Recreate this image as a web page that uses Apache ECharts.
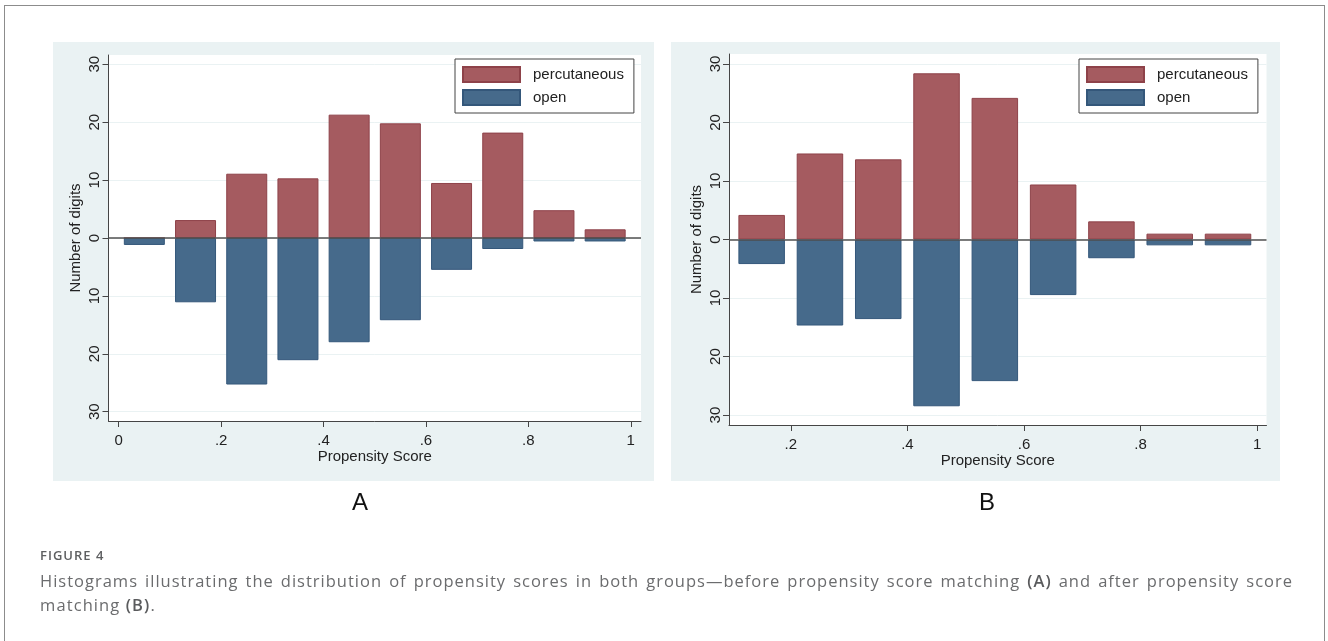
<!DOCTYPE html>
<html>
<head>
<meta charset="utf-8">
<script src="https://cdn.jsdelivr.net/npm/echarts@6/dist/echarts.min.js"></script>
<style>
  html, body { margin: 0; padding: 0; background: #fff; }
  #wrap { position: relative; width: 1328px; height: 641px; overflow: hidden; }
  #frame { position: absolute; left: 4px; top: 5px; width: 1321px; height: 700px; border: 1px solid #8c8c8c; box-sizing: border-box; }
  #chart { position: absolute; left: 0; top: 0; width: 1328px; height: 641px; }
  .cap { position: absolute; left: 40px; width: 1253px; font-family: "Open Sans", sans-serif; color: #6b6c6e; }
  #figlab { top: 546px; font-size: 13px; font-weight: 600; letter-spacing: 1px; color: #5e5f61; }
  #line1 { top: 569px; font-size: 16.5px; line-height: 24px; letter-spacing: 1px; text-align: justify; text-align-last: justify; }
  #line2 { top: 593px; font-size: 16.5px; line-height: 24px; letter-spacing: 1.1px; }
  b { font-weight: 600; color: #5a5b5d; }
</style>
</head>
<body>
<div id="wrap">
  <div id="frame"></div>
  <div id="chart"></div>
  <div class="cap" id="figlab">FIGURE 4</div>
  <div class="cap" id="line1">Histograms illustrating the distribution of propensity scores in both groups—before propensity score matching <b>(A)</b> and after propensity score</div>
  <div class="cap" id="line2">matching <b>(B)</b>.</div>
</div>
<script>
// ---- data (percent of digits per propensity-score bin) ----
const binCentersA = [0.05, 0.15, 0.25, 0.35, 0.45, 0.55, 0.65, 0.75, 0.85, 0.95];
const percutaneousA = [0, 3.1, 11.1, 10.3, 21.3, 19.8, 9.5, 18.2, 4.8, 1.5];
const openA = [1.2, 11.1, 25.3, 21.1, 18.0, 14.2, 5.5, 1.9, 0.6, 0.6];

const binCentersB = [0.15, 0.25, 0.35, 0.45, 0.55, 0.65, 0.75, 0.85, 0.95];
const percutaneousB = [4.2, 14.7, 13.7, 28.4, 24.2, 9.4, 3.1, 1.0, 1.0];
const openB = [4.2, 14.7, 13.6, 28.5, 24.2, 9.5, 3.2, 1.0, 1.0];

const xTicksA = [0, 0.2, 0.4, 0.6, 0.8, 1];
const xTicksB = [0.2, 0.4, 0.6, 0.8, 1];
const yTicks = [-30, -20, -10, 0, 10, 20, 30];
const seriesNames = ['percutaneous', 'open'];
const panelLabels = ['A', 'B'];

// ---- styles ----
const FONT = '"Liberation Sans", Arial, sans-serif';
const RED = '#a55b60', RED_B = '#8e4249';
const BLUE = '#466a8b', BLUE_B = '#34577a';
const AXIS = '#454545';
const PANEL_BG = '#eaf2f3';

function xFmt(v) {
  if (v === 0) return '0';
  if (v === 1) return '1';
  return String(Math.round(v * 10) / 10).replace(/^0/, '');
}

function xAxisCfg(idx, min, max, ticks) {
  return {
    type: 'value', gridIndex: idx, min: min, max: max,
    name: 'Propensity Score', nameLocation: 'middle', nameGap: 28, nameMoveOverlap: false,
    nameTextStyle: { fontFamily: FONT, fontSize: 15, color: '#222' },
    axisLine: { show: true, onZero: false, lineStyle: { color: AXIS, width: 1 } },
    axisTick: { show: true, length: 6, customValues: ticks, lineStyle: { color: AXIS } },
    axisLabel: { customValues: ticks, formatter: xFmt, margin: 12, fontFamily: FONT, fontSize: 15, color: '#222' },
    splitLine: { show: false }
  };
}

function yAxisCfg(idx, lim) {
  return {
    type: 'value', gridIndex: idx, min: -lim, max: lim,
    name: 'Number of digits', nameLocation: 'middle', nameGap: 25, nameMoveOverlap: false,
    nameTextStyle: { fontFamily: FONT, fontSize: 15, color: '#222' },
    axisLine: { show: true, onZero: false, lineStyle: { color: AXIS, width: 1 } },
    axisTick: { show: true, length: 6, customValues: yTicks, lineStyle: { color: AXIS } },
    axisLabel: { customValues: yTicks, rotate: 90, margin: 6, formatter: v => String(Math.abs(v)),
                 fontFamily: FONT, fontSize: 15, color: '#222' },
    splitLine: { show: true, lineStyle: { color: PANEL_BG, width: 1 } }
  };
}

function barSeries(name, idx, centers, vals, sign, color, border, width, zeroLine) {
  const s = {
    name: name, type: 'bar', xAxisIndex: idx, yAxisIndex: idx,
    barWidth: width, barGap: '-100%',
    data: centers.map((c, i) => [c, sign * vals[i]]),
    itemStyle: { color: color, borderColor: border, borderWidth: 1 },
    emphasis: { disabled: true }, animation: false
  };
  if (zeroLine) {
    s.markLine = {
      silent: true, symbol: 'none', animation: false,
      label: { show: false },
      lineStyle: { color: '#505050', width: 1.5, type: 'solid' },
      data: [{ yAxis: 0 }]
    };
  }
  return s;
}

function legendCfg(left) {
  return {
    data: seriesNames, orient: 'vertical', left: left, top: 59,
    icon: 'rect', itemWidth: 57, itemHeight: 15, itemGap: 6,
    padding: [7, 10, 7, 7], borderColor: '#444', borderWidth: 1, backgroundColor: '#fff',
    selectedMode: false,
    textStyle: { fontFamily: FONT, fontSize: 15, color: '#222', padding: [0, 0, 0, 8] }
  };
}

const chart = echarts.init(document.getElementById('chart'), null, { renderer: 'canvas' });
chart.setOption({
  animation: false,
  graphic: [
    { type: 'rect', shape: { x: 53, y: 42, width: 601, height: 439 }, style: { fill: PANEL_BG }, z: -10, silent: true },
    { type: 'rect', shape: { x: 671, y: 42, width: 609, height: 439 }, style: { fill: PANEL_BG }, z: -10, silent: true },
    { type: 'text', x: 360, y: 503, style: { text: panelLabels[0], font: '24px ' + FONT, fill: '#111', align: 'center', verticalAlign: 'middle' } },
    { type: 'text', x: 987, y: 503, style: { text: panelLabels[1], font: '24px ' + FONT, fill: '#111', align: 'center', verticalAlign: 'middle' } }
  ],
  legend: [legendCfg(455), legendCfg(1079)],
  grid: [
    { left: 108.5, top: 55, width: 532.5, height: 366, show: true, backgroundColor: '#fff', borderWidth: 0 },
    { left: 729, top: 54, width: 537.5, height: 371, show: true, backgroundColor: '#fff', borderWidth: 0 }
  ],
  xAxis: [xAxisCfg(0, -0.02, 1.02, xTicksA), xAxisCfg(1, 0.094, 1.016, xTicksB)],
  yAxis: [yAxisCfg(0, 31.6), yAxisCfg(1, 31.7)],
  series: [
    barSeries(seriesNames[0], 0, binCentersA, percutaneousA, 1, RED, RED_B, 41, false),
    barSeries(seriesNames[1], 0, binCentersA, openA, -1, BLUE, BLUE_B, 41, true),
    barSeries(seriesNames[0], 1, binCentersB, percutaneousB, 1, RED, RED_B, 46.5, false),
    barSeries(seriesNames[1], 1, binCentersB, openB, -1, BLUE, BLUE_B, 46.5, true)
  ]
});
</script>
</body>
</html>
